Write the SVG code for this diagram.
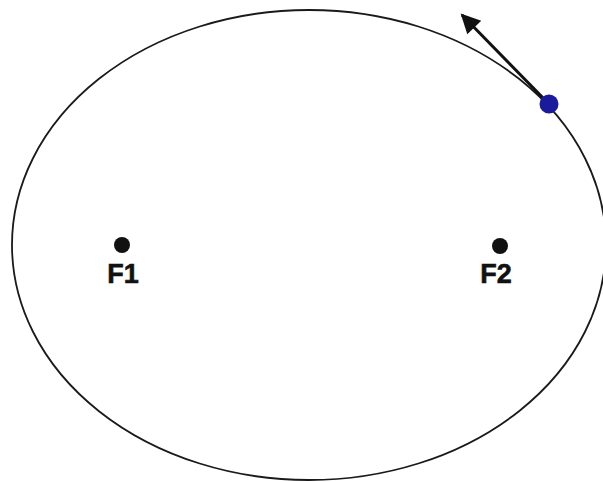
<svg xmlns="http://www.w3.org/2000/svg" width="603" height="482" viewBox="0 0 603 482">
<defs>
<style>
.orbit{fill:none;stroke:#1a1a1a;stroke-width:1.8}
.focus{fill:#111}
.lbl{font-family:"Liberation Sans",Arial,sans-serif;font-weight:bold;font-size:27px;fill:#111;text-anchor:middle;stroke:#111;stroke-width:0.6}
.vec{stroke:#111;stroke-width:3;fill:none}
</style>
<marker id="ah" viewBox="0 0 10 10" refX="9" refY="5" markerWidth="7.5" markerHeight="6.5" markerUnits="strokeWidth" orient="auto">
<path d="M0,0 L10,5 L0,10 z" fill="#111"/>
</marker>
</defs>
<rect width="603" height="482" fill="#fff"/>
<g id="orbit"><ellipse class="orbit" cx="309" cy="245" rx="297" ry="235"/></g>
<g id="F1"><circle class="focus" cx="122" cy="245" r="8"/><text class="lbl" x="123" y="283">F1</text></g>
<g id="F2"><circle class="focus" cx="500" cy="246" r="8"/><text class="lbl" x="496" y="283">F2</text></g>
<g id="connectors"><line class="vec" x1="549" y1="104" x2="462" y2="15" marker-end="url(#ah)"/></g>
<g id="planet"><circle cx="549" cy="104" r="9.5" fill="#1a1a9c"/></g>
</svg>
